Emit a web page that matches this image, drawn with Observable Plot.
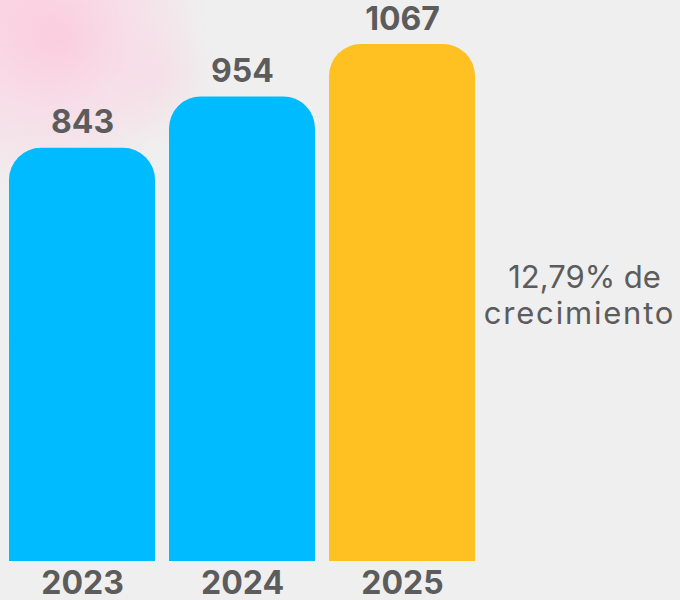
<!DOCTYPE html>
<html>
<head>
<meta charset="utf-8">
<script src="https://cdn.jsdelivr.net/npm/d3@7"></script>
<script src="https://cdn.jsdelivr.net/npm/@observablehq/plot@0.6"></script>
<style>
html, body { margin: 0; padding: 0; width: 680px; height: 600px; overflow: hidden; }
body {
  background:
    radial-gradient(circle at 60px 40px, rgba(255,190,215,0.55) 0, rgba(255,205,225,0.35) 70px, rgba(255,215,230,0) 150px),
    radial-gradient(circle at 0px 0px, rgba(255,200,220,0.6) 0, rgba(255,210,225,0.3) 110px, rgba(240,240,240,0) 200px),
    radial-gradient(circle at 160px 80px, rgba(255,200,220,0.25) 0, rgba(255,200,220,0) 60px),
    #efefef;
  font-family: Inter, "Noto Sans", sans-serif;
}
#chart svg { display: block; }
#chart .wide-line text { letter-spacing: 1.8px; }
</style>
</head>
<body>
<div id="chart"></div>
<script>
const years = ["2023", "2024", "2025"];
const values = [843, 954, 1067];
const barColors = ["#00bbff", "#00bbff", "#ffc022"];
const growthLine1 = "12,79% de";
const growthLine2 = "crecimiento";

const data = years.map((year, i) => ({ year, value: values[i], color: barColors[i] }));

const yMin = -48;
const textColor = "#5c5c5c";

const chart = Plot.plot({
  width: 680,
  height: 600,
  margin: 0,
  x: { type: "band", domain: years, range: [2, 482], paddingInner: 0.0875, paddingOuter: 0.04375, axis: null },
  y: { domain: [yMin, 1067], range: [561, 44], axis: null },
  color: { type: "identity" },
  style: { background: "transparent", fontFamily: "Inter, 'Noto Sans', sans-serif" },
  marks: [
    Plot.barY(data, { x: "year", y1: yMin, y2: "value", fill: "color", rx: 32 }),
    Plot.barY(data, { x: "year", y1: yMin, y2: d => d.value / 2, fill: "color" }),
    Plot.text(data, {
      x: "year", y: "value", text: d => String(d.value),
      lineAnchor: "bottom", dy: -15,
      fontSize: 32, fontWeight: 700, fill: textColor
    }),
    Plot.text(data, {
      x: "year", y: yMin, text: "year",
      lineAnchor: "bottom", dy: 32,
      fontSize: 32, fontWeight: 700, fill: textColor
    }),
    Plot.text([growthLine1], {
      frameAnchor: "top-left", dx: 584, dy: 287,
      text: d => d, textAnchor: "middle", lineAnchor: "bottom",
      fontSize: 31, fontWeight: 400, fill: textColor
    }),
    Plot.text([growthLine2], {
      frameAnchor: "top-left", dx: 579, dy: 323,
      text: d => d, textAnchor: "middle", lineAnchor: "bottom",
      fontSize: 31, fontWeight: 400, fill: textColor, className: "wide-line"
    })
  ]
});

document.getElementById("chart").appendChild(chart);
</script>
</body>
</html>
